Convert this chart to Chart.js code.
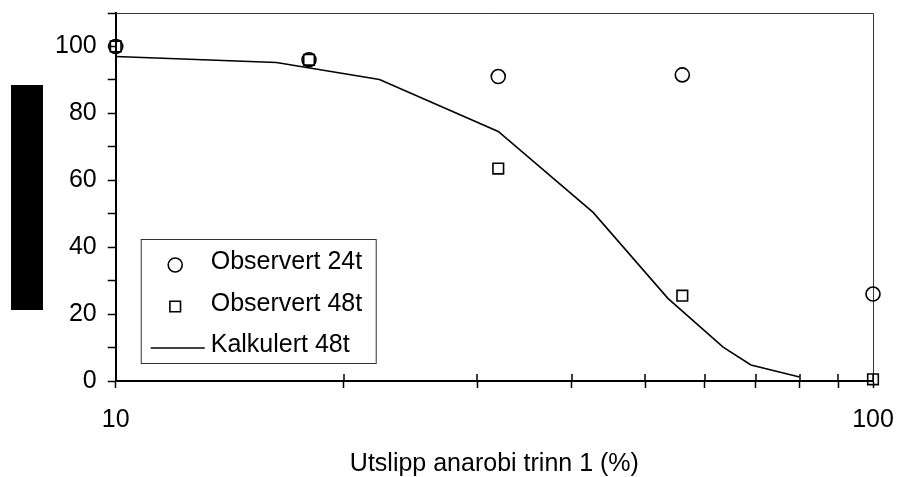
<!DOCTYPE html>
<html>
<head>
<meta charset="utf-8">
<script src="https://cdn.jsdelivr.net/npm/chart.js@4.4.0/dist/chart.umd.min.js"></script>
<style>
  html, body { margin: 0; padding: 0; background: #fff; }
  #wrap { position: relative; width: 898px; height: 477px; }
  #redact { position: absolute; left: 11px; top: 85px; width: 32px; height: 225px; background: #000; }
</style>
</head>
<body>
<div id="wrap">
  <canvas id="chart" width="898" height="477"></canvas>
  <div id="redact"></div>
</div>
<script>
// observed points (shared x for both series)
const obsX = [10, 18, 32, 56, 100];
const obs24 = [100, 96, 91, 91.5, 26];
const obs48 = [100, 96, 63.5, 25.5, 0.5];

// calculated curve
const calcX = [10, 16.3, 22.3, 32, 42.7, 53.6, 63.4, 69, 80];
const calc48 = [97, 95.2, 90.1, 74.6, 50.4, 24.7, 10.1, 4.8, 1.2];

const xTicks = [10, 20, 30, 40, 50, 60, 70, 80, 90, 100];
const xLabels = [10, 100];
const yLabels = [0, 20, 40, 60, 80, 100];

const labels = ['Observert 24t', 'Observert 48t', 'Kalkulert 48t'];
const FONT = { family: '"Liberation Sans", Arial, sans-serif', size: 25 };

const toPts = (xs, ys) => xs.map((x, i) => ({ x: x, y: ys[i] }));

// ticks crossing into the plot + top/right frame
const frame = {
  id: 'frame',
  beforeDatasetsDraw(chart) {
    const { ctx, chartArea: a, scales } = chart;
    ctx.save();
    ctx.strokeStyle = '#333';
    ctx.lineWidth = 1;
    ctx.beginPath();
    ctx.moveTo(a.left, a.top + 0.5);
    ctx.lineTo(a.right + 0.5, a.top + 0.5);
    ctx.lineTo(a.right + 0.5, a.bottom);
    ctx.stroke();
    ctx.strokeStyle = '#000';
    ctx.lineWidth = 1.5;
    ctx.beginPath();
    xTicks.slice(1).forEach(v => {
      const px = Math.round(scales.x.getPixelForValue(v));
      ctx.moveTo(px, a.bottom);
      ctx.lineTo(px, a.bottom - 7);
    });
    ctx.stroke();
    ctx.restore();
  }
};

const legendBox = {
  id: 'legendBox',
  afterDraw(chart) {
    const { ctx, chartArea: a } = chart;
    const left = a.left + 25, top = a.bottom - 142, w = 235, h = 124;
    ctx.save();
    ctx.fillStyle = '#fff';
    ctx.fillRect(left, top, w, h);
    ctx.strokeStyle = '#333';
    ctx.lineWidth = 1;
    ctx.strokeRect(left + 0.5, top + 0.5, w, h);
    ctx.font = FONT.size + 'px ' + FONT.family;
    chart.data.datasets.forEach((ds, i) => {
      const cy = top + 26 + i * 41.5;
      ctx.strokeStyle = '#000';
      ctx.fillStyle = '#fff';
      ctx.lineWidth = ds.borderWidth;
      if (ds.showLine) {
        ctx.beginPath();
        ctx.moveTo(left + 10, cy);
        ctx.lineTo(left + 64, cy);
        ctx.stroke();
      } else {
        Chart.helpers.drawPoint(ctx, {
          pointStyle: ds.pointStyle, radius: ds.pointRadius,
          borderWidth: ds.borderWidth, rotation: 0
        }, left + 34.5, cy);
      }
      ctx.fillStyle = '#000';
      ctx.textBaseline = 'alphabetic';
      ctx.textAlign = 'left';
      ctx.fillText(ds.label, left + 70, cy + 4);
    });
    ctx.restore();
  }
};

new Chart(document.getElementById('chart'), {
  type: 'scatter',
  data: {
    datasets: [{
      label: labels[0],
      data: toPts(obsX, obs24),
      pointStyle: 'circle',
      pointRadius: 7,
      borderWidth: 1.6,
      borderColor: '#000',
      backgroundColor: 'rgba(255,255,255,0)',
      clip: false
    }, {
      label: labels[1],
      data: toPts(obsX, obs48),
      pointStyle: 'rect',
      pointRadius: 7.5,
      borderWidth: 1.6,
      borderColor: '#000',
      backgroundColor: 'rgba(255,255,255,0)',
      clip: false
    }, {
      label: labels[2],
      data: toPts(calcX, calc48),
      showLine: true,
      pointRadius: 0,
      borderWidth: 1.6,
      borderColor: '#000',
      tension: 0,
      clip: false
    }]
  },
  options: {
    responsive: false,
    devicePixelRatio: 1,
    animation: false,
    layout: { padding: { left: 44, right: 25, top: 13, bottom: 0 } },
    plugins: {
      legend: { display: false },
      tooltip: { enabled: false }
    },
    scales: {
      x: {
        type: 'logarithmic',
        min: 10,
        max: 100,
        afterBuildTicks: s => { s.ticks = xTicks.map(v => ({ value: v })); },
        afterFit: s => { s.height = 96; s.paddingLeft = 0; s.paddingRight = 0; },
        border: { color: '#000', width: 2 },
        grid: { drawOnChartArea: false, drawTicks: true, tickLength: 7, tickColor: '#000', tickWidth: 1.5 },
        ticks: {
          autoSkip: false, maxRotation: 0, padding: 17, color: '#000', font: FONT,
          callback: v => xLabels.includes(v) ? String(v) : ''
        },
        title: {
          display: true, text: 'Utslipp anarobi trinn 1 (%)', color: '#000',
          font: { family: FONT.family, size: FONT.size, lineHeight: 1 },
          padding: { top: 20, bottom: 0 }
        }
      },
      y: {
        min: 0,
        max: 110,
        afterFit: s => { s.paddingTop = 0; s.paddingBottom = 0; },
        border: { color: '#000', width: 2 },
        grid: { drawOnChartArea: false, drawTicks: true, tickLength: 8, tickColor: '#000', tickWidth: 1.5 },
        ticks: {
          stepSize: 10, padding: 11, color: '#000', font: FONT,
          callback: v => yLabels.includes(v) ? String(v) : ''
        }
      }
    }
  },
  plugins: [frame, legendBox]
});
</script>
</body>
</html>
